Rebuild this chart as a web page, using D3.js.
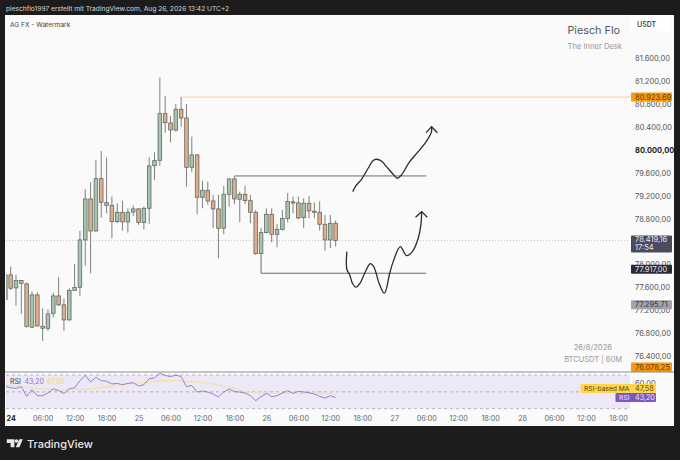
<!DOCTYPE html>
<html>
<head>
<meta charset="utf-8">
<script src="https://cdn.jsdelivr.net/npm/d3@7"></script>
<style>
    html, body { margin: 0; padding: 0; background: #1c1c1c; }
    svg { display: block; font-family: Inter, "Noto Sans", sans-serif; }
    .tick line, .domain { display: none; }
</style>
</head>
<body>
<svg id="chart" width="680" height="460"></svg>
<script>
// hourly candles, first one is 23:00 the day before
const firstHour = -1;
const candleOpen = [77392,77817,77590,77718,77660,76903,77467,76920,76885,77147,77450,77293,77031,77543,77601,78428,79144,78585,79499,79080,79034,78748,78911,78743,78917,78970,78731,78981,79726,79820,80635,80472,80349,80710,80559,79697,79913,79173,79296,79109,78970,78632,79226,79494,79138,79226,79115,78911,78189,78556,78876,78527,78614,78801,79080,79074,78818,79069,78929,78911,78702,78428,78719];
const candleHigh = [77846,77962,77817,77729,77683,77526,77514,77235,77217,77508,77776,77404,77584,78009,78585,79313,79435,79825,79983,79866,79185,79069,79109,78981,79028,78981,79010,79872,79959,81263,80943,80594,80803,80924,80803,80233,79930,79464,79447,79214,79214,79371,79505,79546,79272,79371,79214,78952,78644,78981,78981,78708,78952,79243,79185,79185,79156,79197,79080,79103,78865,78865,78766];
const candleLow = [77380,77555,77281,77136,76897,76885,76914,76664,76839,77072,77275,76839,77019,77537,77450,77974,77846,78574,78818,78894,78457,78719,78591,78556,78847,78690,78614,78708,79476,79726,80303,80134,80320,80408,79360,79610,78882,78981,79039,78632,78108,78527,79010,79057,78737,79057,78719,78166,78166,78545,78387,78300,78591,78731,78894,78789,78632,78807,78807,78591,78242,78283,78312];
const candleClose = [77817,77584,77718,77671,76914,77467,76926,76885,77136,77450,77293,77031,77543,77596,78428,79144,78585,79499,79086,79034,78748,78911,78743,78911,78970,78731,78981,79721,79814,80635,80477,80349,80710,80559,79697,79913,79173,79296,79109,78970,78632,79226,79494,79144,79226,79115,78911,78189,78556,78876,78527,78614,78801,79098,79092,78812,79069,78935,78917,78702,78428,78719,78419];

const rsiValues = [56.5,55,54,56.1,44.7,52.6,45.4,45.4,48.6,53.8,51.4,48.2,53.8,54.6,63.3,69.6,61.7,67.2,63.3,62.5,59.3,60.1,58.5,60.1,60.9,56.9,58.5,65.6,66.4,72,69.6,68,70,68,56.1,57.7,49.8,51,49.8,47.4,43.9,49.8,53.4,50.2,49.8,48.6,45.4,39.5,44.3,48.2,44.3,45.4,48.6,51.4,48.2,50.6,49.8,49,47.4,44.7,42.7,45.4,43.2];
const rsiMaValues = [58.5,57.7,57.3,56.5,55.7,54.6,53.8,53.4,53,52.6,52.2,52.2,52.2,52.2,52.6,53,53.8,54.2,55.3,56.1,56.9,58.5,58.9,59.7,60.1,60.5,60.9,60.9,62.1,63.3,63.3,63.3,63.3,62.9,62.5,62.1,61.7,60.9,60.1,59.3,58.1,56.9,55.3,53.8,52.2,50.6,49.8,49,48.6,48.2,48.2,48.6,48.6,48.6,48.6,48.2,48.2,48.2,48.2,48.2,48.2,48.2,47.6];

const priceTicks = [81600,81200,80800,80400,80000,79600,79200,78800,78000,77600,77200,76800,76400];
const timeTicks = [0,6,12,18,24,30,36,42,48,54,60,66,72,78,84,90,96,102,108,114];
const timeLabels = ["24","06:00","12:00","18:00","25","06:00","12:00","18:00","26","06:00","12:00","18:00","27","06:00","12:00","18:00","28","06:00","12:00","18:00"];

// drawings on the chart
const resistancePrice = 80923.69;
const upperLevel = 79546;
const lowerLevel = 77846;
const lastPrice = 78419.16;

const upperPathHours = [64.2,64.8,65.85,67.1,68,68.65,69.6,70.55,71.8,72.6,73.35,74.9,76.5,78,79,79];
const upperPathPrices = [79272,79371,79488,79680,79813,79838,79808,79708,79576,79506,79563,79796,79970,80145,80320,80407];
const upperHeadHours = [78,79,80.1];
const upperHeadPrices = [80302,80407,80302];

const lowerPathHours = [63.1,63.1,63.65,64.15,64.8,65.5,66.45,67.5,68.15,69.15,70.15,71.15,71.8,73.15,74.3,75.4,76.5,77,77.15];
const lowerPathPrices = [78224,77916,77817,77672,77602,77659,77846,78014,77962,77672,77497,77846,78049,78311,78154,78224,78458,78690,78922];
const lowerHeadHours = [76,77.15,78.2];
const lowerHeadPrices = [78824,78922,78824];

const green = "#a8c4ae", orange = "#e3ab88", bodyLine = "#5f6b62", wickLine = "#7f7f7f";

const svg = d3.select("#chart");
const plotLeft = 6, plotRight = 630, panelRight = 674;

const x = d3.scaleLinear().domain([0, 114]).range([10.67, 618]);
const y = d3.scaleLinear().domain([76400, 81600]).range([356, 58.4]);
const yRsi = d3.scaleLinear().domain([30, 70]).range([408.7, 375]);

const price = d3.formatLocale({ decimal: ",", thousands: ".", grouping: [3] }).format(",.2f");
const twoDec = d3.formatLocale({ decimal: ",", thousands: ".", grouping: [3] }).format(".2f");

// panel
svg.append("rect").attr("x", 5).attr("y", 15).attr("width", panelRight - 5).attr("height", 411).attr("fill", "#fafafa");
svg.append("rect").attr("x", 631).attr("y", 15).attr("width", 39).attr("height", 16).attr("fill", "#ffffff");

svg.append("clipPath").attr("id", "plot").append("rect")
    .attr("x", plotLeft).attr("y", 15).attr("width", plotRight - plotLeft).attr("height", 357);

svg.append("text").attr("x", 6).attr("y", 11).attr("fill", "#d8d8d8").attr("font-size", 6.65)
    .text("pieschflo1997 erstellt mit TradingView.com, Aug 26, 2026 13:42 UTC+2");
svg.append("text").attr("x", 10).attr("y", 26.5).attr("fill", "#444").attr("font-size", 6.6).text("AG FX - Watermark");
svg.append("text").attr("x", 620).attr("y", 34).attr("text-anchor", "end").attr("fill", "#555").attr("font-size", 10.8).text("Piesch Flo");
svg.append("text").attr("x", 622).attr("y", 48.5).attr("text-anchor", "end").attr("fill", "#999").attr("font-size", 7.6).text("The Inner Desk");
svg.append("text").attr("x", 637).attr("y", 27).attr("fill", "#333").attr("font-size", 7).attr("font-weight", 500).text("USDT");
svg.append("text").attr("x", 612).attr("y", 349.5).attr("text-anchor", "end").attr("fill", "#999").attr("font-size", 7.6).text("26/8/2026");
svg.append("text").attr("x", 622).attr("y", 362).attr("text-anchor", "end").attr("fill", "#999").attr("font-size", 7.5).text("BTCUSDT | 60M");

// last price guide
svg.append("line").attr("x1", plotLeft).attr("x2", plotRight).attr("y1", y(lastPrice)).attr("y2", y(lastPrice))
    .attr("stroke", "#c4c4c8").attr("stroke-width", 1).attr("stroke-dasharray", "1 2");

// resistance line starts at the high of the candle
svg.append("line").attr("x1", x(32)).attr("x2", plotRight).attr("y1", y(resistancePrice)).attr("y2", y(resistancePrice))
    .attr("stroke", "#f6d7a4").attr("stroke-width", 1.3);

const candles = d3.range(candleOpen.length).map(function(i) {
    return { hour: firstHour + i, open: candleOpen[i], high: candleHigh[i], low: candleLow[i], close: candleClose[i] };
});

const candleGroup = svg.append("g").attr("clip-path", "url(#plot)");
candleGroup.selectAll("line.wick").data(candles).join("line").attr("class", "wick")
    .attr("x1", d => x(d.hour)).attr("x2", d => x(d.hour))
    .attr("y1", d => y(d.high)).attr("y2", d => y(d.low))
    .attr("stroke", wickLine).attr("stroke-width", 1);
candleGroup.selectAll("rect.body").data(candles).join("rect").attr("class", "body")
    .attr("x", d => x(d.hour) - 1.8).attr("width", 3.6)
    .attr("y", d => y(Math.max(d.open, d.close)))
    .attr("height", d => Math.max(1, Math.abs(y(d.open) - y(d.close))))
    .attr("fill", d => d.close >= d.open ? green : orange)
    .attr("stroke", bodyLine).attr("stroke-width", 0.8);

// support / resistance boxes drawn by hand on the chart
const level = svg.append("g").attr("fill", "none").attr("stroke", "#6d6d6d").attr("stroke-width", 1);
level.append("path").attr("d", d3.line()([[x(42), y(candleHigh[43])], [x(78), y(upperLevel)]]));
level.append("path").attr("d", d3.line()([[x(47), y(candleClose[47] - 23)], [x(47), y(lowerLevel)], [x(78), y(lowerLevel)]]));

// the two arrows
const freehand = d3.line().x(d => x(d[0])).y(d => y(d[1]));
function drawArrow(hours, prices, headHours, headPrices) {
    svg.append("path").attr("fill", "none").attr("stroke", "#2b2b2b").attr("stroke-width", 1.3).attr("stroke-linejoin", "round")
        .attr("d", freehand.curve(d3.curveCatmullRom)(d3.zip(hours, prices)));
    svg.append("path").attr("fill", "none").attr("stroke", "#2b2b2b").attr("stroke-width", 1.3)
        .attr("d", freehand.curve(d3.curveLinear)(d3.zip(headHours, headPrices)));
}
drawArrow(upperPathHours, upperPathPrices, upperHeadHours, upperHeadPrices);
drawArrow(lowerPathHours, lowerPathPrices, lowerHeadHours, lowerHeadPrices);

// price axis
const priceAxis = svg.append("g").attr("transform", "translate(635,0)")
    .call(d3.axisRight(y).tickValues(priceTicks).tickSize(0).tickPadding(0).tickFormat(price));
priceAxis.selectAll("text").attr("font-size", 7.5).attr("font-family", "Inter, sans-serif")
    .attr("font-weight", d => d === 80000 ? 700 : 400).attr("fill", d => d === 80000 ? "#222" : "#555");

function priceTag(top, height, fill, color, lines) {
    svg.append("rect").attr("x", 631).attr("y", top).attr("width", 41).attr("height", height).attr("rx", 1).attr("fill", fill);
    lines.forEach(function(t, i) {
        svg.append("text").attr("x", 635).attr("y", top + 7 + i * 8).attr("fill", color).attr("font-size", 7.5).text(t);
    });
}
priceTag(y(resistancePrice) - 4.5, 9, "#f79a0e", "#5d3b00", [price(resistancePrice)]);
priceTag(y(lastPrice) - 5, 17, "#4a4c5e", "#e6e6ee", [price(lastPrice), "17:54"]);
priceTag(y(77917) - 4.5, 9, "#2a2b38", "#e6e6ee", [price(77917)]);
priceTag(y(77295.71) - 4.5, 9, "#a2a2aa", "#3a3a44", [price(77295.71)]);
priceTag(362.5, 9.5, "#f79a0e", "#5d3b00", [price(76078.25)]);

// pane separator
svg.append("line").attr("x1", 5).attr("x2", panelRight).attr("y1", 372).attr("y2", 372).attr("stroke", "#8c8c8c").attr("stroke-width", 1);

// RSI pane
svg.append("rect").attr("x", plotLeft).attr("width", plotRight - plotLeft)
    .attr("y", yRsi(70)).attr("height", yRsi(30) - yRsi(70)).attr("fill", "#ece8f5");
[70, 50, 30].forEach(function(v) {
    svg.append("line").attr("x1", plotLeft).attr("x2", plotRight).attr("y1", yRsi(v)).attr("y2", yRsi(v))
        .attr("stroke", "#a5a5b2").attr("stroke-width", 0.8).attr("stroke-dasharray", "3 3");
});

const rsiLine = d3.line().x((d, i) => x(firstHour + i)).y(d => yRsi(d));
const rsiGroup = svg.append("g").attr("clip-path", "url(#rsiClip)").attr("fill", "none");
svg.append("clipPath").attr("id", "rsiClip").append("rect").attr("x", plotLeft).attr("y", 372).attr("width", plotRight - plotLeft).attr("height", 40);
rsiGroup.append("path").attr("d", rsiLine(rsiMaValues)).attr("stroke", "#f2e0a8").attr("stroke-width", 1.2);
rsiGroup.append("path").attr("d", rsiLine(rsiValues)).attr("stroke", "#8a78c8").attr("stroke-width", 0.9);

svg.append("text").attr("x", 10).attr("y", 384).attr("fill", "#444").attr("font-size", 7).text("RSI");
svg.append("text").attr("x", 24.5).attr("y", 384).attr("fill", "#8a78c8").attr("font-size", 7).text(twoDec(43.2));
svg.append("text").attr("x", 46.5).attr("y", 384).attr("fill", "#f4d877").attr("font-size", 7).text(twoDec(47.58));

// RSI axis, mostly hidden by the value tags
const rsiAxis = svg.append("g").attr("transform", "translate(635,0)")
    .call(d3.axisRight(yRsi).tickValues([60]).tickSize(0).tickPadding(0).tickFormat(twoDec));
rsiAxis.selectAll("text").attr("font-size", 7.5).attr("font-family", "Inter, sans-serif").attr("fill", "#555");

function rsiTag(y0, fill, color, name, value) {
    const nameWidth = name.length > 4 ? 50.5 : 15.5;
    svg.append("rect").attr("x", 631 - nameWidth).attr("y", y0).attr("width", nameWidth + 25).attr("height", 9).attr("rx", 1).attr("fill", fill);
    svg.append("text").attr("x", 629.5).attr("y", y0 + 7).attr("text-anchor", "end").attr("fill", color).attr("font-size", 6.7).text(name);
    svg.append("text").attr("x", 635).attr("y", y0 + 7).attr("fill", color).attr("font-size", 7.2).text(value);
}
rsiTag(384, "#ffd54f", "#5a4700", "RSI-based MA", twoDec(47.58));
rsiTag(393, "#7e57c2", "#ece6f8", "RSI", twoDec(43.2));

// time axis
const timeAxis = svg.append("g").attr("transform", "translate(0,416)")
    .call(d3.axisBottom(x).tickValues(timeTicks).tickSize(0).tickPadding(0).tickFormat((d, i) => timeLabels[i]));
timeAxis.selectAll("text").attr("font-size", 7.2).attr("font-family", "Inter, sans-serif")
    .attr("font-weight", d => d === 0 ? 700 : 400).attr("fill", d => d === 0 ? "#222" : "#666");

// footer logo
const logo = svg.append("g").attr("fill", "#e8e8e8");
logo.append("path").attr("d", "M6.8 439.2h7.6v8h-3.8v-4.2h-3.8z");
logo.append("circle").attr("cx", 16.4).attr("cy", 441).attr("r", 1.8);
logo.append("path").attr("d", "M19.2 439.2h3.6l-3.4 8h-3.6z");
svg.append("text").attr("x", 27).attr("y", 447.5).attr("fill", "#e8e8e8").attr("font-size", 11).attr("font-weight", 500).text("TradingView");
</script>
</body>
</html>
